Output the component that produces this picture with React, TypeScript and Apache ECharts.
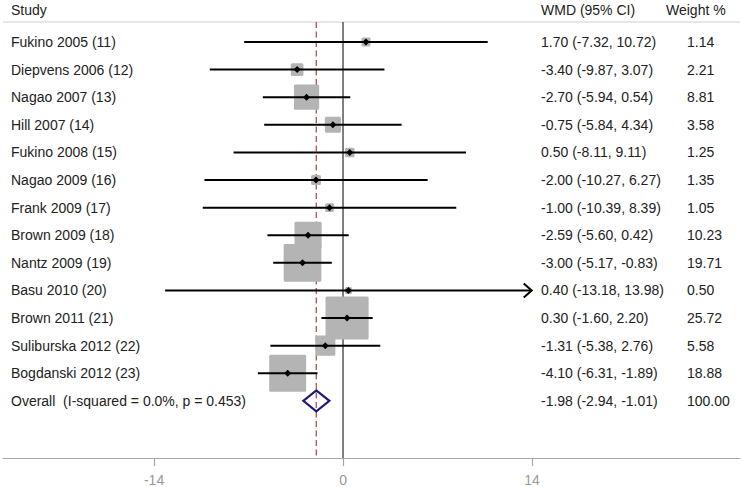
import React, { useEffect, useRef } from "react";
import * as echarts from "echarts";

const studies = [
  "Fukino 2005 (11)",
  "Diepvens 2006 (12)",
  "Nagao 2007 (13)",
  "Hill 2007 (14)",
  "Fukino 2008 (15)",
  "Nagao 2009 (16)",
  "Frank 2009 (17)",
  "Brown 2009 (18)",
  "Nantz 2009 (19)",
  "Basu 2010 (20)",
  "Brown 2011 (21)",
  "Suliburska 2012 (22)",
  "Bogdanski 2012 (23)",
];
const estimates = [1.7, -3.4, -2.7, -0.75, 0.5, -2.0, -1.0, -2.59, -3.0, 0.4, 0.3, -1.31, -4.1];
const lowers = [-7.32, -9.87, -5.94, -5.84, -8.11, -10.27, -10.39, -5.6, -5.17, -13.18, -1.6, -5.38, -6.31];
const uppers = [10.72, 3.07, 0.54, 4.34, 9.11, 6.27, 8.39, 0.42, -0.83, 13.98, 2.2, 2.76, -1.89];
const weights = [1.14, 2.21, 8.81, 3.58, 1.25, 1.35, 1.05, 10.23, 19.71, 0.5, 25.72, 5.58, 18.88];
const arrowRight = [false, false, false, false, false, false, false, false, false, true, false, false, false];

const overallLabel = "Overall  (I-squared = 0.0%, p = 0.453)";
const overallEst = -1.98;
const overallLo = -2.94;
const overallHi = -1.01;
const overallWeight = 100.0;

const headers = ["Study", "WMD (95% CI)", "Weight %"];
const xTicks = [-14, 0, 14];

const FONT = "'Liberation Sans', Arial, sans-serif";
const TEXT_COLOR = "#222";

const fmt = (v: number) => v.toFixed(2);

export default function App() {
  const ref = useRef<HTMLDivElement>(null);
  useEffect(() => {
    if (!ref.current) return;
    const chart = echarts.init(ref.current, null, { renderer: "svg" });
    const n = studies.length;
    const rowData = studies.map((_, i) => [i, estimates[i], lowers[i], uppers[i], weights[i]]);
    const COL_STUDY = 11;
    const COL_WMD = 541;
    const COL_W = 687;

    const textEl = (text: string, x: number, y: number) => ({
      type: "text",
      style: {
        text,
        x,
        y,
        fill: TEXT_COLOR,
        fontSize: 14,
        fontFamily: FONT,
        align: "left",
        verticalAlign: "middle",
      },
      z2: 30,
    });

    const option: any = {
      animation: false,
      grid: { left: 3, right: 3, top: 22, bottom: 29, containLabel: false },
      xAxis: {
        type: "value",
        min: -25.19,
        max: 29.41,
        splitLine: { show: false },
        axisLine: { show: true, onZero: false, lineStyle: { color: "#a8a8a8", width: 1.2 } },
        axisTick: { show: true, customValues: xTicks, length: 8, lineStyle: { color: "#a8a8a8", width: 1.2 } },
        axisLabel: { customValues: xTicks, color: "#999", fontSize: 14, fontFamily: FONT, margin: 15 },
      },
      yAxis: { type: "value", inverse: true, min: -0.725, max: 15.07, show: false },
      graphic: [
        { type: "line", shape: { x1: 3, y1: 22, x2: 740, y2: 22 }, style: { stroke: "#cfcfcf", lineWidth: 1.2 } },
        { type: "text", style: { text: headers[0], x: COL_STUDY, y: 10, fill: TEXT_COLOR, fontSize: 14, fontFamily: FONT, verticalAlign: "middle" } },
        { type: "text", style: { text: headers[1], x: COL_WMD, y: 10, fill: TEXT_COLOR, fontSize: 14, fontFamily: FONT, verticalAlign: "middle" } },
        { type: "text", style: { text: headers[2], x: 666, y: 10, fill: TEXT_COLOR, fontSize: 14, fontFamily: FONT, verticalAlign: "middle" } },
      ],
      series: [
        {
          type: "custom",
          z: 1,
          clip: false,
          data: [[0]],
          renderItem: (params: any, api: any) => {
            const cs = params.coordSys;
            const x0 = api.coord([0, 0])[0];
            const xo = api.coord([overallEst, 0])[0];
            return {
              type: "group",
              children: [
                { type: "line", shape: { x1: x0, y1: cs.y, x2: x0, y2: cs.y + cs.height }, style: { stroke: "#606060", lineWidth: 1.6 } },
                { type: "line", shape: { x1: xo, y1: cs.y, x2: xo, y2: cs.y + cs.height }, style: { stroke: "#b5514f", lineWidth: 1.3, lineDash: [6, 3.5] } },
              ],
            };
          },
        },
        {
          type: "custom",
          z: 2,
          clip: false,
          data: rowData,
          renderItem: (params: any, api: any) => {
            const i = params.dataIndex;
            const [xe, y] = api.coord([api.value(1), api.value(0)]);
            const xl = api.coord([api.value(2), api.value(0)])[0];
            const xh = api.coord([api.value(3), api.value(0)])[0];
            const side = Math.max(8.5 * Math.sqrt(api.value(4)), 7);
            const children: any[] = [
              { type: "rect", shape: { x: xe - side / 2, y: y - side / 2, width: side, height: side, r: 1.5 }, style: { fill: "#b4b4b4" }, z2: 1 },
              { type: "line", shape: { x1: xl, y1: y, x2: xh, y2: y }, style: { stroke: "#000", lineWidth: 2 }, z2: 5 },
              { type: "polygon", shape: { points: [[xe - 3.5, y], [xe, y - 3.5], [xe + 3.5, y], [xe, y + 3.5]] }, style: { fill: "#000" }, z2: 6 },
              textEl(studies[i], COL_STUDY, y),
              textEl(`${fmt(estimates[i])} (${fmt(lowers[i])}, ${fmt(uppers[i])})`, COL_WMD, y),
              textEl(fmt(weights[i]), COL_W, y),
            ];
            if (arrowRight[i]) {
              children.push({
                type: "polyline",
                shape: { points: [[xh - 8, y - 7], [xh, y], [xh - 8, y + 7]] },
                style: { stroke: "#000", lineWidth: 2, fill: "none" },
                z2: 5,
              });
            }
            return { type: "group", children };
          },
        },
        {
          type: "custom",
          z: 3,
          clip: false,
          data: [[n, overallEst, overallLo, overallHi, overallWeight]],
          renderItem: (params: any, api: any) => {
            const [xe, y] = api.coord([api.value(1), api.value(0)]);
            const xl = api.coord([api.value(2), api.value(0)])[0];
            const xh = api.coord([api.value(3), api.value(0)])[0];
            return {
              type: "group",
              children: [
                {
                  type: "polygon",
                  shape: { points: [[xl, y], [xe, y - 10.5], [xh, y], [xe, y + 10.5]] },
                  style: { stroke: "#1c1c72", lineWidth: 2.2, fill: "rgba(255,255,255,0)" },
                },
                textEl(overallLabel, COL_STUDY, y),
                textEl(`${fmt(overallEst)} (${fmt(overallLo)}, ${fmt(overallHi)})`, COL_WMD, y),
                textEl(fmt(overallWeight), COL_W, y),
              ],
            };
          },
        },
      ],
    };
    chart.setOption(option);
    return () => chart.dispose();
  }, []);
  return <div ref={ref} style={{ width: 743, height: 487, position: "absolute", left: 0, top: 0, background: "#fff" }} />;
}
